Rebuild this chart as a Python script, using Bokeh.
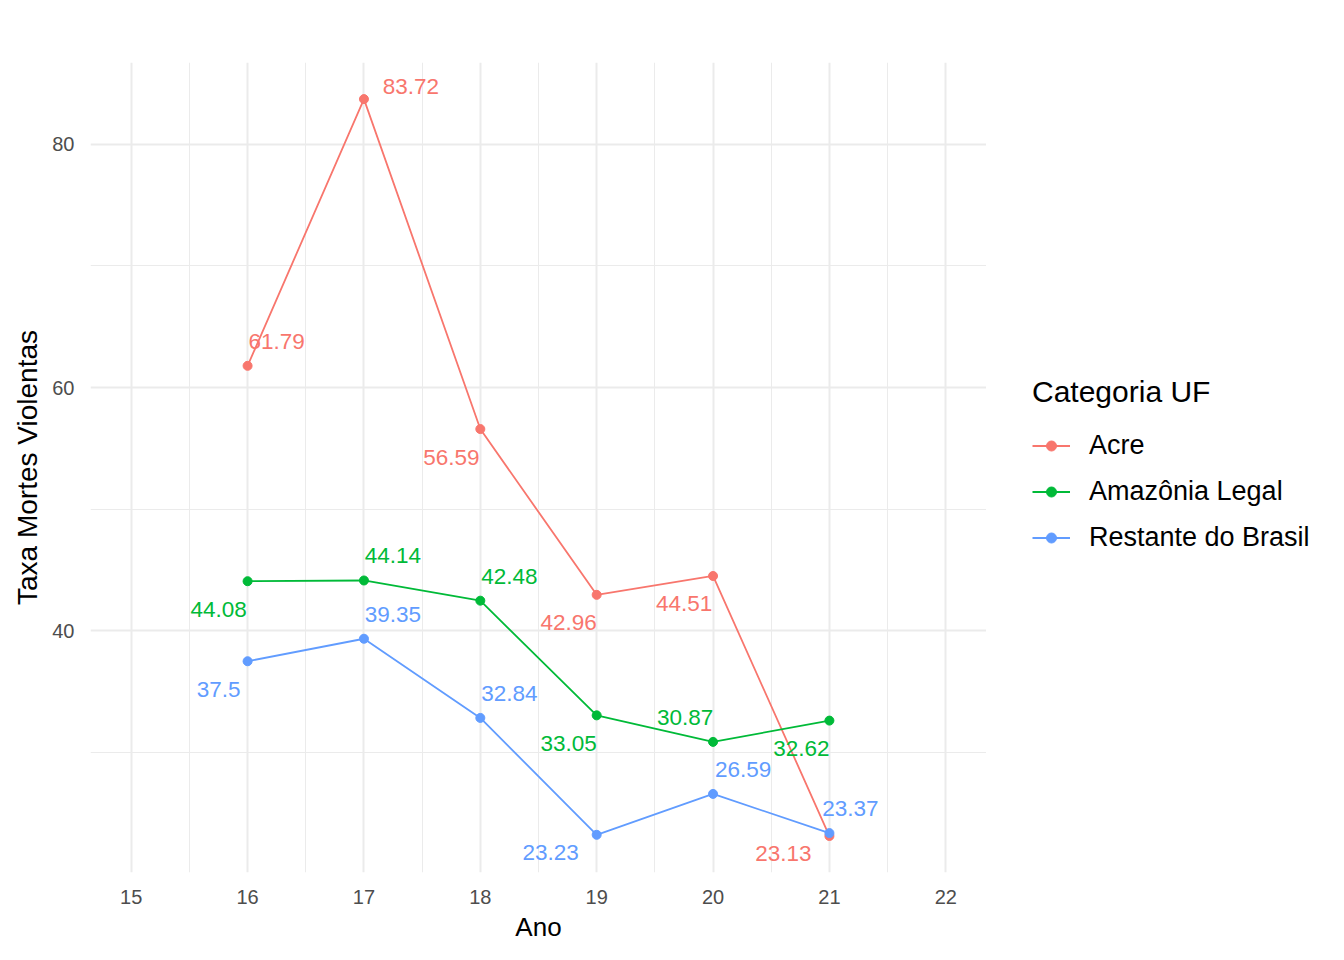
from bokeh.plotting import figure
from bokeh.models import Range1d, Legend, LegendItem, FixedTicker, ColumnDataSource
from bokeh.layouts import row
from bokeh.embed import file_html
from bokeh.resources import INLINE
from bokeh.core.properties import value

anos = [16, 17, 18, 19, 20, 21]
acre = [61.79, 83.72, 56.59, 42.96, 44.51, 23.13]
amazonia = [44.08, 44.14, 42.48, 33.05, 30.87, 32.62]
restante = [37.5, 39.35, 32.84, 23.23, 26.59, 23.37]
categorias = ["Acre", "Amazônia Legal", "Restante do Brasil"]
cores = ["#F8766D", "#00BA38", "#619CFF"]
x_ticks = [15, 16, 17, 18, 19, 20, 21, 22]
y_ticks = [40, 60, 80]

# label offsets in screen px (style only)
off_acre = [(29, -24), (47, -13), (-29, 28), (-28, 28), (-29, 28), (-46, 17)]
off_amaz = [(-29, 28), (29, -25), (29, -24), (-28, 28), (-28, -24), (-28, 28)]
off_rest = [(-29, 28), (29, -24), (29, -24), (-46, 18), (30, -24), (21, -25)]

FONT = "Liberation Sans"

p = figure(width=986, height=944, output_backend="svg", toolbar_location=None,
           x_range=Range1d(14.65, 22.35), y_range=Range1d(20.13, 86.73),
           min_border_left=90, min_border_right=0, min_border_top=62, min_border_bottom=71)
p.outline_line_color = None
p.background_fill_color = "white"
p.border_fill_color = "white"

for ax in (p.xaxis[0], p.yaxis[0]):
    ax.axis_line_color = None
    ax.major_tick_line_color = None
    ax.minor_tick_line_color = None
    ax.major_tick_out = 0
    ax.major_tick_in = 0
    ax.major_label_text_font = FONT
    ax.major_label_text_font_size = "20px"
    ax.major_label_text_color = "#4D4D4D"
    ax.axis_label_text_font = FONT
    ax.axis_label_text_font_style = "normal"
    ax.axis_label_text_color = "black"

p.xaxis.axis_label_text_font_size = "26px"
p.yaxis.axis_label_text_font_size = "28px"
p.xaxis.ticker = FixedTicker(ticks=x_ticks, minor_ticks=[14.5 + i for i in range(9)])
p.yaxis.ticker = FixedTicker(ticks=y_ticks, minor_ticks=[30, 50, 70])
p.xaxis.axis_label = "Ano"
p.yaxis.axis_label = "Taxa Mortes Violentas"
p.xaxis.major_label_standoff = 13
p.yaxis.major_label_standoff = 12
p.xaxis.axis_label_standoff = 5
p.yaxis.axis_label_standoff = 6

for g in (p.xgrid[0], p.ygrid[0]):
    g.grid_line_color = "#EBEBEB"
    g.grid_line_width = 2
    g.minor_grid_line_color = "#EBEBEB"
    g.minor_grid_line_width = 1

# legend panel
q = figure(width=342, height=944, output_backend="svg", toolbar_location=None,
           x_range=Range1d(0, 1), y_range=Range1d(0, 1),
           min_border_left=0, min_border_right=0, min_border_top=0, min_border_bottom=0)
q.axis.visible = False
q.grid.visible = False
q.outline_line_color = None
q.border_fill_color = "white"

items = []
for serie, cor, nome, offs in zip([acre, amazonia, restante], cores, categorias,
                                  [off_acre, off_amaz, off_rest]):
    src = ColumnDataSource(dict(x=anos, y=serie,
                                lab=[f"{v:g}" for v in serie],
                                dx=[o[0] for o in offs], dy=[o[1] for o in offs]))
    p.line("x", "y", source=src, line_color=cor, line_width=1.8)
    p.scatter("x", "y", source=src, size=9, fill_color=cor, line_color=cor)
    p.text("x", "y", text="lab", source=src, x_offset="dx", y_offset="dy",
           text_color=cor, text_font=value(FONT), text_font_size="22.5px",
           text_align="center", text_baseline="middle")
    # legend key glyphs: same series drawn in the legend panel, outside its visible range
    lk = q.line(x=anos, y=[v - 1000 for v in serie], line_color=cor, line_width=1.8)
    pk = q.scatter(x=anos, y=[v - 1000 for v in serie], size=9, fill_color=cor, line_color=cor)
    items.append(LegendItem(label=nome, renderers=[lk, pk]))

legend = Legend(items=items, location=(46, 312), title="Categoria UF",
                title_text_font=FONT, title_text_font_size="30px", title_text_font_style="normal",
                title_text_color="black", title_standoff=13,
                label_text_font=FONT, label_text_font_size="27px", label_text_color="black",
                glyph_width=38, glyph_height=25, label_height=46, label_standoff=19,
                spacing=0, padding=0, margin=0, border_line_color=None,
                background_fill_color=None)
q.add_layout(legend, "center")

layout = row(p, q)
open("out.html", "w").write(file_html(layout, INLINE))
